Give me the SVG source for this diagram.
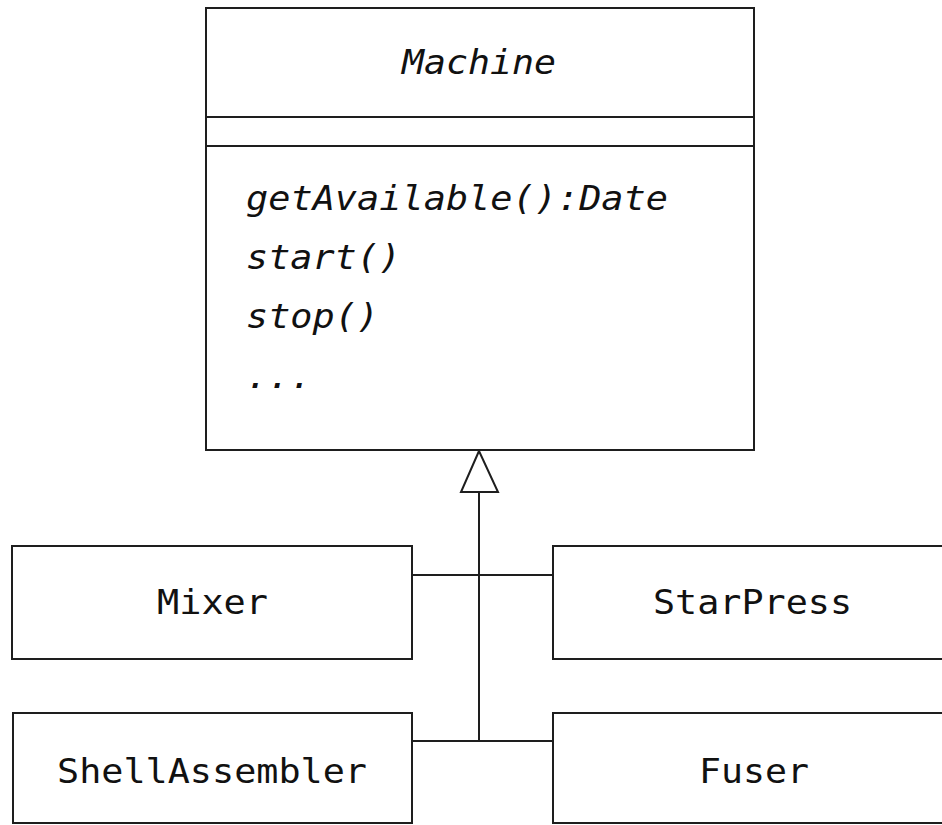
<svg xmlns="http://www.w3.org/2000/svg" width="942" height="825" viewBox="0 0 942 825">
  <style>
    .box { fill: #ffffff; stroke: #1e1e1e; stroke-width: 2; }
    .line { fill: none; stroke: #1e1e1e; stroke-width: 2; }
    .head { fill: #ffffff; stroke: #1e1e1e; stroke-width: 2; stroke-linejoin: miter; }
    .t { font-family: "DejaVu Sans Mono", "Liberation Mono", monospace; font-size: 33px; fill: #111111; }
    .i { font-style: italic; }
  </style>
  <rect width="942" height="825" fill="#ffffff"/>

  <g id="connectors">
    <line class="line" x1="479" y1="492" x2="479" y2="741"/>
    <line class="line" x1="412" y1="575" x2="553" y2="575"/>
    <line class="line" x1="412" y1="741" x2="553" y2="741"/>
    <polygon class="head" points="479,451 461,492 498,492"/>
  </g>

  <g id="node-machine">
    <rect class="box" x="206" y="8" width="548" height="442"/>
    <line class="line" x1="206" y1="117" x2="754" y2="117"/>
    <line class="line" x1="206" y1="146" x2="754" y2="146"/>
    <text class="t i" x="402" y="74" textLength="154" lengthAdjust="spacingAndGlyphs">Machine</text>
    <text class="t i" x="246" y="210" textLength="422" lengthAdjust="spacingAndGlyphs">getAvailable():Date</text>
    <text class="t i" x="246" y="269" textLength="155" lengthAdjust="spacingAndGlyphs">start()</text>
    <text class="t i" x="246" y="328" textLength="133" lengthAdjust="spacingAndGlyphs">stop()</text>
    <text class="t i" x="246" y="388" textLength="66" lengthAdjust="spacingAndGlyphs">...</text>
  </g>

  <g id="node-mixer">
    <rect class="box" x="12" y="546" width="400" height="113"/>
    <text class="t" x="157" y="614" textLength="111" lengthAdjust="spacingAndGlyphs">Mixer</text>
  </g>

  <g id="node-starpress">
    <rect class="box" x="553" y="546" width="420" height="113"/>
    <text class="t" x="653" y="614" textLength="199" lengthAdjust="spacingAndGlyphs">StarPress</text>
  </g>

  <g id="node-shellassembler">
    <rect class="box" x="13" y="713" width="399" height="110"/>
    <text class="t" x="57" y="783" textLength="310" lengthAdjust="spacingAndGlyphs">ShellAssembler</text>
  </g>

  <g id="node-fuser">
    <rect class="box" x="553" y="713" width="420" height="110"/>
    <text class="t" x="699" y="783" textLength="110" lengthAdjust="spacingAndGlyphs">Fuser</text>
  </g>
</svg>
